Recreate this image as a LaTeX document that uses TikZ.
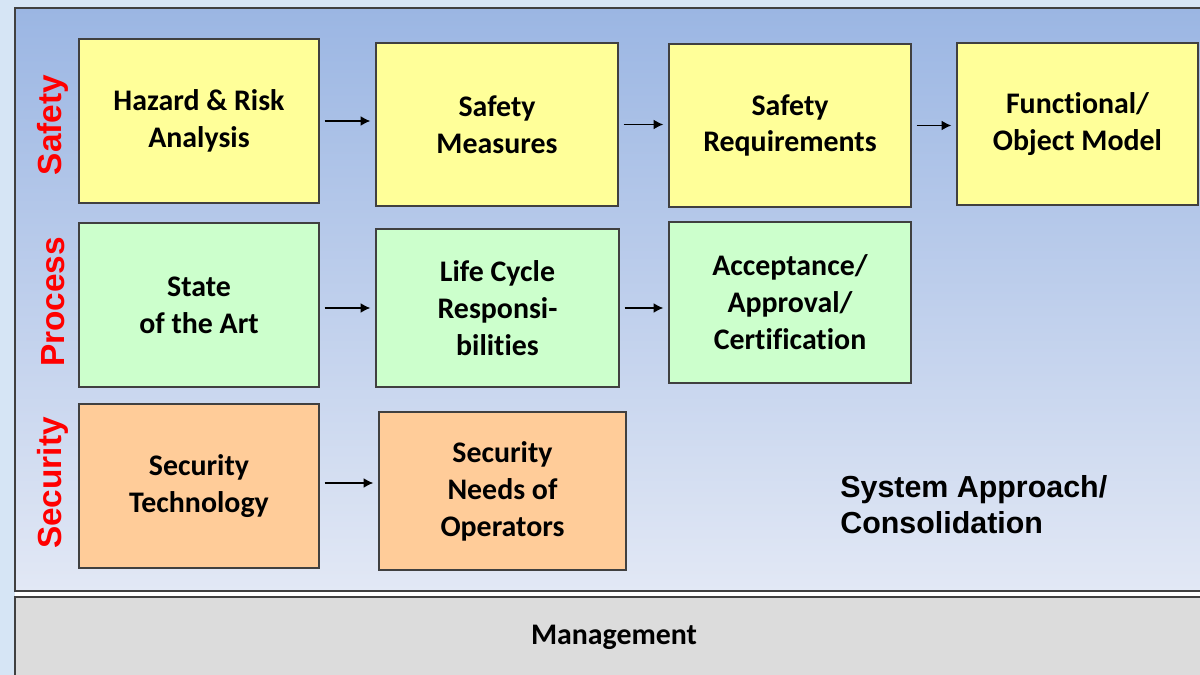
\documentclass[tikz,border=0pt]{standalone}
\usepackage{fontspec}
\setmainfont{Carlito}[Ligatures=NoCommon]
\newfontfamily\arialfont{Liberation Sans}
\usetikzlibrary{arrows.meta}

\definecolor{sideblue}{RGB}{214,229,245}
\definecolor{paneltop}{RGB}{155,182,227}
\definecolor{panelbottom}{RGB}{226,232,245}
\definecolor{mgmtgray}{RGB}{220,220,220}
\definecolor{boxline}{RGB}{64,64,64}
\definecolor{boxyellow}{RGB}{255,255,153}
\definecolor{boxgreen}{RGB}{204,255,204}
\definecolor{boxorange}{RGB}{255,204,153}

\tikzset{
  box/.style={draw=boxline, line width=0.8pt, align=center, inner sep=0pt,
    font=\fontsize{17}{21}\selectfont\bfseries},
  safetybox/.style={box, fill=boxyellow},
  processbox/.style={box, fill=boxgreen},
  securitybox/.style={box, fill=boxorange},
  flow/.style={-{Latex[length=5.5pt,width=5.5pt]}, line width=0.7pt,
    shorten <=0.1cm, shorten >=0.1cm},
  lane/.style={rotate=90, text=red, inner sep=0pt,
    font=\arialfont\fontsize{19}{22}\selectfont\bfseries}
}

\begin{document}
\begin{tikzpicture}[x=0.02cm, y=-0.02cm]
            \useasboundingbox (0,0) rectangle (1200,675);
            \clip (0,0) rectangle (1200,675);
            \fill[sideblue] (0,0) rectangle (1200,675);

            % panels
            \shade[top color=paneltop, bottom color=panelbottom] (15,8) rectangle (1205,591);
            \draw[boxline, line width=0.9pt] (15,8) rectangle (1205,591);
            \fill[white] (15,592) rectangle (1205,597);
            \draw[boxline, line width=0.6pt, fill=mgmtgray] (15,597) rectangle (1205,680);
            \node[font=\fontsize{17}{21}\selectfont\bfseries] (mgmt) at (614,637) {Management};

            % lanes
            \node[lane] (safety) at (53,125) {Safety};
            \node[lane] (process) at (53,302) {Process};
            \node[lane] (security) at (53,483) {Security};

            % safety row
            \node[safetybox, minimum width=4.8cm, minimum height=3.28cm] (hazard) at (199,121) {Hazard \& Risk\\Analysis};
            \node[safetybox, minimum width=4.84cm, minimum height=3.26cm] (measures) at (497,124.5) {Safety\\Measures};
            \node[safetybox, minimum width=4.84cm, minimum height=3.26cm] (requirements) at (790,125.5) {Safety\\Requirements};
            \node[safetybox, minimum width=4.82cm, minimum height=3.24cm] (model) at (1077.5,124) {Functional/\\Object Model};

            % process row
            \node[processbox, minimum width=4.8cm, minimum height=3.28cm] (art) at (199,305) {State\\of the Art};
            \node[processbox, minimum width=4.86cm, minimum height=3.16cm] (lifecycle) at (497.5,308) {Life Cycle\\Responsi-\\bilities};
            \node[processbox, minimum width=4.84cm, minimum height=3.22cm] (acceptance) at (790,302.5) {Acceptance/\\Approval/\\Certification};

            % security row
            \node[securitybox, minimum width=4.8cm, minimum height=3.28cm] (technology) at (199,486) {Security\\Technology};
            \node[securitybox, minimum width=4.94cm, minimum height=3.16cm] (needs) at (502.5,491) {Security\\Needs of\\Operators};

            \node[align=left, anchor=west, inner sep=0pt,
              font=\arialfont\fontsize{17.3}{20.5}\selectfont\bfseries] (system) at (840,505) {System Approach/\\Consolidation};

            % arrows
            \draw[flow] (hazard.east) -- (hazard.east -| measures.west);
            \draw[flow] (measures.east) -- (measures.east -| requirements.west);
            \draw[flow] (requirements.east) -- (requirements.east -| model.west);
            \draw[flow] ([yshift=-0.06cm]art.east) -- ([yshift=-0.06cm]art.east -| lifecycle.west);
            \draw[flow] (lifecycle.east) -- (lifecycle.east -| acceptance.west);
            \draw[flow] ([yshift=0.06cm]technology.east) -- ([yshift=0.06cm]technology.east -| needs.west);
\end{tikzpicture}
\end{document}
